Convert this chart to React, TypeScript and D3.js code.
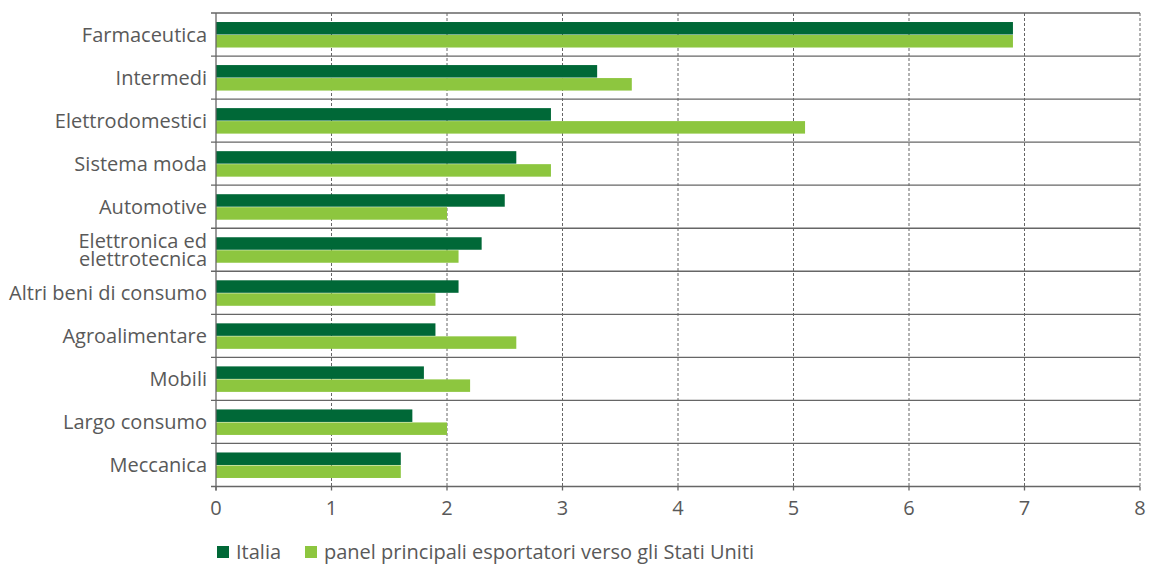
import React from "react";
import * as d3 from "d3";

const categories = [
  "Farmaceutica",
  "Intermedi",
  "Elettrodomestici",
  "Sistema moda",
  "Automotive",
  "Elettronica ed\nelettrotecnica",
  "Altri beni di consumo",
  "Agroalimentare",
  "Mobili",
  "Largo consumo",
  "Meccanica",
];
const italia = [6.9, 3.3, 2.9, 2.6, 2.5, 2.3, 2.1, 1.9, 1.8, 1.7, 1.6];
const panel = [6.9, 3.6, 5.1, 2.9, 2.0, 2.1, 1.9, 2.6, 2.2, 2.0, 1.6];
const xTicks = [0, 1, 2, 3, 4, 5, 6, 7, 8];
const seriesNames = ["Italia", "panel principali esportatori verso gli Stati Uniti"];
const colors = ["#006837", "#8dc63f"];

export default function App() {
  const W = 1153, H = 565;
  const left = 216, right = 1140, top = 13, bottom = 486.5;
  const x = d3.scaleLinear().domain([0, 8]).range([left, right]);
  const y = d3.scaleBand<number>().domain(d3.range(categories.length)).range([top, bottom]);
  const bh = 12.5;
  const font = "'Open Sans', 'Noto Sans', sans-serif";
  const txt = "#595959";
  const lineCol = "#666";
  const fs = 20;
  return (
    <svg width={W} height={H} style={{ position: "absolute", left: 0, top: 0 }} fontFamily={font}>
      {xTicks.slice(1).map((t) => (
        <line key={"g" + t} x1={x(t)} x2={x(t)} y1={top} y2={bottom} stroke={lineCol} strokeWidth={1} strokeDasharray="3,2" />
      ))}
      {d3.range(categories.length + 1).map((i) => {
        const yy = top + i * y.step();
        return <line key={"h" + i} x1={left - 5} x2={right} y1={yy} y2={yy} stroke={lineCol} strokeWidth={1.3} />;
      })}
      {categories.map((c, i) => {
        const cy = (y(i) as number) + y.bandwidth() / 2;
        return (
          <g key={"b" + i}>
            <rect x={x(0)} y={cy - bh} width={x(italia[i]) - x(0)} height={bh} fill={colors[0]} />
            <rect x={x(0)} y={cy + 0.5} width={x(panel[i]) - x(0)} height={bh} fill={colors[1]} />
          </g>
        );
      })}
      <line x1={left} x2={left} y1={top} y2={bottom + 4} stroke={lineCol} strokeWidth={1.3} />
      {xTicks.map((t) => (
        <g key={"t" + t}>
          <line x1={x(t)} x2={x(t)} y1={bottom} y2={bottom + 4} stroke={lineCol} strokeWidth={1.3} />
          <text x={x(t)} y={515} textAnchor="middle" fontSize={fs} fill={txt}>{t}</text>
        </g>
      ))}
      {categories.map((c, i) => {
        const cy = (y(i) as number) + y.bandwidth() / 2;
        const lines = c.split("\n");
        const lh = 17.5;
        return (
          <text key={"l" + i} x={207} textAnchor="end" fontSize={fs} fill={txt}>
            {lines.map((ln, j) => (
              <tspan key={j} x={207} y={cy + 7 + (j - (lines.length - 1) / 2) * lh}>{ln}</tspan>
            ))}
          </text>
        );
      })}
      <rect x={217} y={546} width={12} height={12} fill={colors[0]} />
      <text x={236} y={559} fontSize={fs} fill={txt}>{seriesNames[0]}</text>
      <rect x={305} y={546} width={12} height={12} fill={colors[1]} />
      <text x={324} y={559} fontSize={fs} fill={txt}>{seriesNames[1]}</text>
    </svg>
  );
}
